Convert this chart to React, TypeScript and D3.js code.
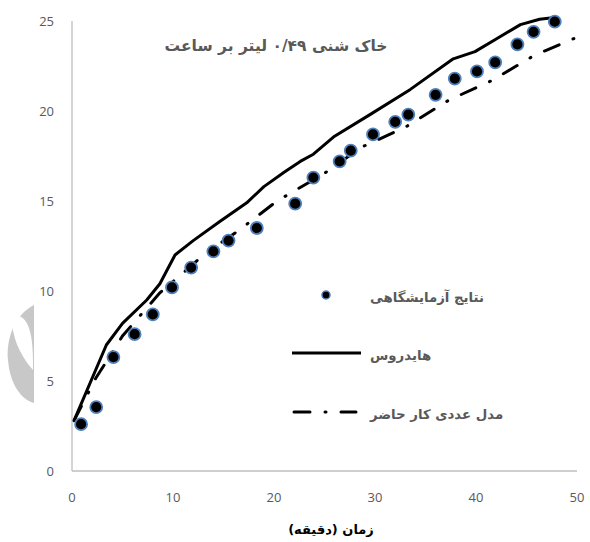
import React from "react";
import * as d3 from "d3";

const expX = [0.9, 2.4, 4.1, 6.2, 8.0, 9.9, 11.8, 14.0, 15.5, 18.3, 22.1, 23.9, 26.5, 27.6, 29.8, 32.0, 33.3, 36.0, 37.9, 40.1, 41.9, 44.1, 45.7, 47.8];
const expY = [2.6, 3.55, 6.33, 7.6, 8.7, 10.2, 11.3, 12.2, 12.8, 13.5, 14.85, 16.3, 17.2, 17.8, 18.7, 19.4, 19.8, 20.9, 21.8, 22.2, 22.7, 23.7, 24.4, 24.96];

const hydX = [0.2, 3.4, 5.0, 7.4, 8.7, 10.2, 12.0, 14.6, 17.3, 19.0, 21.0, 22.6, 23.9, 26.0, 29.5, 33.5, 37.75, 39.9, 42.0, 44.4, 46.3, 47.8];
const hydY = [2.8, 7.0, 8.2, 9.5, 10.4, 12.0, 12.8, 13.85, 14.9, 15.8, 16.6, 17.2, 17.6, 18.6, 19.8, 21.2, 22.9, 23.3, 24.0, 24.8, 25.1, 25.2];

const modX = [0.2, 2.4, 4.0, 5.0, 7.0, 8.7, 11.0, 13.0, 16.6, 20.3, 24.9, 28.7, 33.0, 37.3, 41.6, 45.8, 50.0];
const modY = [2.8, 5.2, 6.6, 7.5, 8.8, 9.9, 11.0, 12.0, 13.4, 15.0, 16.5, 18.0, 19.1, 20.6, 21.7, 23.1, 24.1];

const xTicks = [0, 10, 20, 30, 40, 50];
const yTicks = [0, 5, 10, 15, 20, 25];

const title = "خاک شنی ۰/۴۹ لیتر بر ساعت";
const xLabel = "زمان (دقیقه)";
const legendLabels = ["نتایج آزمایشگاهی", "هایدروس", "مدل عددی کار حاضر"];

export default function App() {
  const W = 590, H = 542;
  const x = d3.scaleLinear().domain([0, 50]).range([72, 577]);
  const y = d3.scaleLinear().domain([0, 25]).range([471, 21]);
  const line = d3.line<[number, number]>().x((d) => x(d[0])).y((d) => y(d[1]));
  const hyd = hydX.map((v, i) => [v, hydY[i]] as [number, number]);
  const mod = modX.map((v, i) => [v, modY[i]] as [number, number]);
  const tickFont = "'Open Sans', 'Liberation Sans', sans-serif";
  const faFont = "'DejaVu Sans', sans-serif";
  const dash = "16 15 1 15";
  return (
    <svg width={W} height={H} style={{ position: "absolute", left: 0, top: 0, background: "#fff" }}>
      <rect width={W} height={H} fill="#fff" />
      {/* watermark */}
      <path d="M34,305 C14,315 6,340 8,360 C10,385 22,400 34,403 Z" fill="#c8c8c8" />
      <path d="M12,324 C13,312 24,314 29,328 C33,340 33,356 33,370 C24,360 14,344 12,324 Z" fill="#fff" />
      {/* axes */}
      <line x1={x(0)} x2={x(0)} y1={y(25)} y2={y(0)} stroke="#bfbfbf" strokeWidth={1.3} />
      <line x1={x(0)} x2={x(50)} y1={y(0)} y2={y(0)} stroke="#bfbfbf" strokeWidth={1.3} />
      {yTicks.map((t) => (
        <text key={"y" + t} x={54} y={y(t)} textAnchor="end" dominantBaseline="central" fontFamily={tickFont} fontSize={13} fill="#595959">{t}</text>
      ))}
      {xTicks.map((t) => (
        <text key={"x" + t} x={x(t)} y={497} textAnchor="middle" dominantBaseline="central" fontFamily={tickFont} fontSize={13} fill="#595959">{t}</text>
      ))}
      {/* lines */}
      <path d={line(hyd) || ""} fill="none" stroke="#000" strokeWidth={3} strokeLinejoin="round" />
      <path d={line(mod) || ""} fill="none" stroke="#000" strokeWidth={3} strokeDasharray={dash} strokeLinecap="round" />
      {expX.map((v, i) => (
        <circle key={"p" + i} cx={x(v)} cy={y(expY[i])} r={6} fill="#000" stroke="#4f81bd" strokeWidth={1.8} />
      ))}
      {/* title */}
      <text x={276} y={46} textAnchor="middle" dominantBaseline="central" fontFamily={faFont} fontWeight="bold" fontSize={15.5} fill="#595959">{title}</text>
      {/* legend */}
      <circle cx={326} cy={295} r={4} fill="#000" stroke="#4f81bd" strokeWidth={1.5} />
      <line x1={292} x2={361} y1={353} y2={353} stroke="#000" strokeWidth={3} />
      <line x1={294} x2={356} y1={412} y2={412} stroke="#000" strokeWidth={3} strokeDasharray={dash} strokeLinecap="round" />
      {legendLabels.map((l, i) => (
        <text key={"l" + i} x={370} y={[297, 355, 414][i]} textAnchor="start" dominantBaseline="central" fontFamily={faFont} fontWeight="bold" fontSize={13.3} fill="#595959">{l}</text>
      ))}
      <text x={331} y={529} textAnchor="middle" dominantBaseline="central" fontFamily={faFont} fontWeight="bold" fontSize={13} fill="#000">{xLabel}</text>
    </svg>
  );
}
